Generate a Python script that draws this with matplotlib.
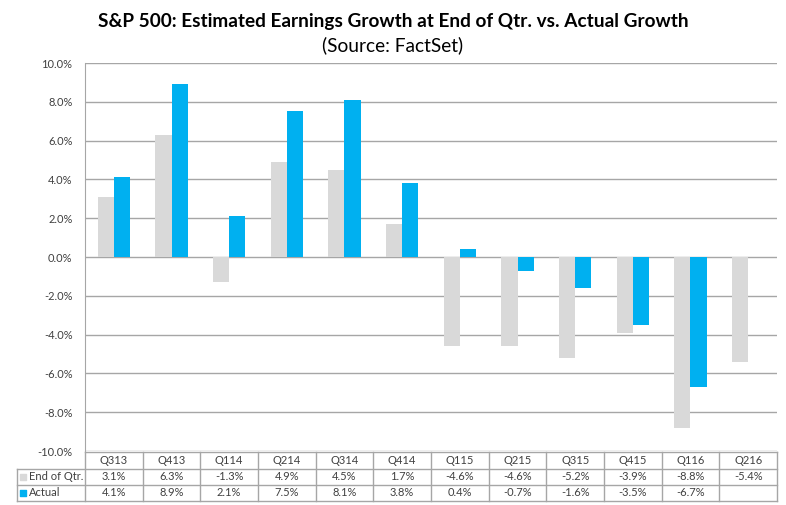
import numpy as np
import matplotlib.pyplot as plt

quarters = ["Q313", "Q413", "Q114", "Q214", "Q314", "Q414",
            "Q115", "Q215", "Q315", "Q415", "Q116", "Q216"]
end_of_qtr = [3.1, 6.3, -1.3, 4.9, 4.5, 1.7, -4.6, -4.6, -5.2, -3.9, -8.8, -5.4]
actual = [4.1, 8.9, 2.1, 7.5, 8.1, 3.8, 0.4, -0.7, -1.6, -3.5, -6.7, np.nan]
series_names = ["End of Qtr.", "Actual"]

GRAY = "#D9D9D9"
BLUE = "#00B0F0"
LINE = "#A6A6A6"
TXT = "#404040"

plt.rcParams["font.family"] = ["Lato", "DejaVu Sans"]

W, H = 786, 505
fig = plt.figure(figsize=(W / 100, H / 100), dpi=100)
left, right, top, bottom = 85, 777, 63, 451
ax = fig.add_axes([left / W, 1 - bottom / H, (right - left) / W, (bottom - top) / H])

x = np.arange(len(quarters))
w = 0.28
ax.bar(x - w / 2, end_of_qtr, w, color=GRAY, zorder=3)
ax.bar(x + w / 2, actual, w, color=BLUE, zorder=3)

ax.set_xlim(-0.5, len(quarters) - 0.5)
ax.set_ylim(-10, 10)
yt = np.arange(-10, 10.1, 2)
ax.set_yticks(yt)
ax.set_yticklabels([f"{v:.1f}%" for v in yt], fontsize=8, color=TXT)
ax.tick_params(axis="y", length=0, pad=9)
ax.set_xticks([])
ax.grid(axis="y", color=LINE, linewidth=1, zorder=0)
for s in ["top", "right", "bottom"]:
    ax.spines[s].set_visible(False)
ax.spines["left"].set_color(LINE)

# data table below the axes
ph = bottom - top
def ya(px):
    return (bottom - px) / ph

rows = [452, 469, 485, 501]
lab_left = (17 - left) / (right - left)
n = len(quarters)
lk = dict(color=LINE, linewidth=1, transform=ax.transAxes, clip_on=False)
ax.plot([0, 1], [ya(rows[0])] * 2, **lk)
for r in rows[1:]:
    ax.plot([lab_left, 1], [ya(r)] * 2, **lk)
for i in range(n + 1):
    ax.plot([i / n] * 2, [ya(rows[0]), ya(rows[-1])], **lk)
ax.plot([lab_left] * 2, [ya(rows[1]), ya(rows[-1])], **lk)

tk = dict(transform=ax.transAxes, ha="center", va="center", fontsize=8, color=TXT, clip_on=False)
for i, q in enumerate(quarters):
    xc = (i + 0.5) / n
    ax.text(xc, ya((rows[0] + rows[1]) / 2), q, **tk)
    for j, vals in enumerate([end_of_qtr, actual]):
        v = vals[i]
        if not np.isnan(v):
            ax.text(xc, ya((rows[j + 1] + rows[j + 2]) / 2), f"{v:.1f}%", **tk)

for j, (name, col) in enumerate(zip(series_names, [GRAY, BLUE])):
    yc = ya((rows[j + 1] + rows[j + 2]) / 2)
    ax.scatter([lab_left + 0.009], [yc], marker="s", s=14, color=col,
               transform=ax.transAxes, clip_on=False)
    ax.text(lab_left + 0.017, yc, name, transform=ax.transAxes, ha="left",
            va="center", fontsize=8, color=TXT, clip_on=False)

fig.text(0.5, 1 - 21 / H, "S&P 500: Estimated Earnings Growth at End of Qtr. vs. Actual Growth",
         ha="center", va="center", fontsize=13.7, fontweight="bold", color="black")
fig.text(0.5, 1 - 45 / H, "(Source: FactSet)", ha="center", va="center",
         fontsize=13.8, color="black")

fig.savefig("out.png", dpi=100, facecolor="white")
